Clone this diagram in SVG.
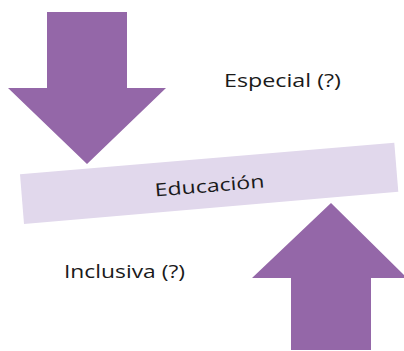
<svg xmlns="http://www.w3.org/2000/svg" width="404" height="351" viewBox="0 0 404 351">
<style>
.arrow{fill:#9467a8}
.band{fill:#e1d8ec}
.lbl{font-family:"Open Sans","Liberation Sans",sans-serif;font-size:18px;fill:#1a1a1a}
</style>
<rect width="404" height="351" fill="#ffffff"/>
<g id="band">
<polygon class="band" points="20,174.3 394.3,142.7 398.3,191.7 24,224"/>
<text class="lbl" x="210" y="192" text-anchor="middle" transform="rotate(-4.8 210 192)" textLength="110" lengthAdjust="spacingAndGlyphs">Educación</text>
</g>
<g id="arrow-down">
<polygon class="arrow" points="47,12 127,12 127,88 166,88 87,164 8,88 47,88"/>
</g>
<g id="arrow-up">
<polygon class="arrow" points="291,350 371,350 371,278 404,278 404,275 331,203 252,278 291,278"/>
</g>
<g id="especial">
<text class="lbl" x="224" y="87" textLength="117" lengthAdjust="spacingAndGlyphs">Especial (?)</text>
</g>
<g id="inclusiva">
<text class="lbl" x="64" y="278" textLength="121" lengthAdjust="spacingAndGlyphs">Inclusiva (?)</text>
</g>
<g id="connectors"></g>
</svg>
